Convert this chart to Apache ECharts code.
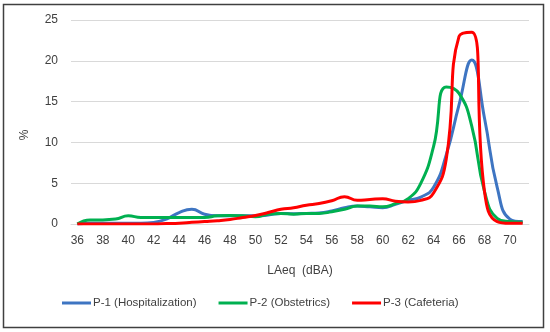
<!DOCTYPE html>
<html>
<head>
<meta charset="utf-8">
<script src="https://cdn.jsdelivr.net/npm/echarts@6/dist/echarts.min.js"></script>
<style>
html,body{margin:0;padding:0;background:#fff;}
#c{width:550px;height:332px;}
</style>
</head>
<body>
<div id="c"></div>
<script>
var categories = ['36','37','38','39','40','41','42','43','44','45','46','47','48','49','50','51','52','53','54','55','56','57','58','59','60','61','62','63','64','65','66','67','68','69','70','71'];
var p1Hospitalization = [0,0.1,0.1,0.1,0.1,0.1,0.2,0.6,1.4,1.8,1.2,1.0,1.0,1.0,1.0,1.1,1.3,1.25,1.3,1.35,1.6,2.0,2.2,2.1,2.0,2.4,2.9,3.3,4.5,8.5,14.6,20.1,13.0,4.5,0.6,0.3];
var p2Obstetrics = [0,0.5,0.5,0.6,1.0,0.8,0.8,0.8,0.8,0.8,0.8,1.0,1.05,1.0,0.9,1.2,1.3,1.2,1.3,1.3,1.5,1.8,2.2,2.2,2.1,2.5,3.1,5.0,9.5,16.8,16.0,12.0,4.0,0.7,0.3,0.2];
var p3Cafeteria = [0,0,0,0,0,0,0,0.05,0.1,0.2,0.3,0.4,0.55,0.8,1.05,1.4,1.8,2.0,2.3,2.5,2.85,3.35,2.9,3.0,3.1,2.8,2.7,2.9,3.8,8.0,23.0,23.5,4.0,0.3,0.1,0.1];
var seriesNames = ['P-1 (Hospitalization)','P-2 (Obstetrics)','P-3 (Cafeteria)'];
var xName = 'LAeq  (dBA)';
var yName = '%';

var colors = ['#3E75C2','#00B050','#FF0000'];
var font = 'Liberation Sans';
var chart = echarts.init(document.getElementById('c'), null, {renderer:'canvas'});
function mk(name, data, color){
  return {name:name, type:'line', data:data, smooth:true, symbol:'none',
    lineStyle:{width:3, color:color}, itemStyle:{color:color}};
}
chart.setOption({
  animation:false,
  textStyle:{fontFamily:font},
  grid:{left:71, right:21, top:20, bottom:108},
  legend:{left:62, top:297, padding:0, itemWidth:29, itemHeight:3, itemGap:22, icon:'rect',
    textStyle:{fontFamily:font, fontSize:11.5, color:'#404040', padding:[0,0,0,-3]},
    data:seriesNames},
  xAxis:{type:'category', data:categories, boundaryGap:true,
    name:xName, nameLocation:'middle', nameGap:41,
    nameTextStyle:{fontFamily:font, fontSize:12, color:'#404040'},
    axisLine:{lineStyle:{color:'#d9d9d9'}}, axisTick:{show:false},
    axisLabel:{interval:1, margin:11, fontFamily:font, fontSize:12, color:'#404040'}},
  yAxis:{type:'value', min:0, max:25, interval:5,
    axisLine:{show:false}, axisTick:{show:false},
    splitLine:{lineStyle:{color:'#d9d9d9'}},
    axisLabel:{margin:13, fontFamily:font, fontSize:12, color:'#404040'}},
  graphic:[
    {type:'rect', shape:{x:3.5, y:4.5, width:540, height:323}, style:{fill:null, stroke:'#404040', lineWidth:1.5}, silent:true},
    {type:'text', x:25, y:135, rotation:Math.PI/2, style:{text:yName, fontFamily:font, fontSize:12, fill:'#404040', align:'center', verticalAlign:'middle'}}
  ],
  series:[mk(seriesNames[0], p1Hospitalization, colors[0]), mk(seriesNames[1], p2Obstetrics, colors[1]), mk(seriesNames[2], p3Cafeteria, colors[2])]
});
</script>
</body>
</html>
